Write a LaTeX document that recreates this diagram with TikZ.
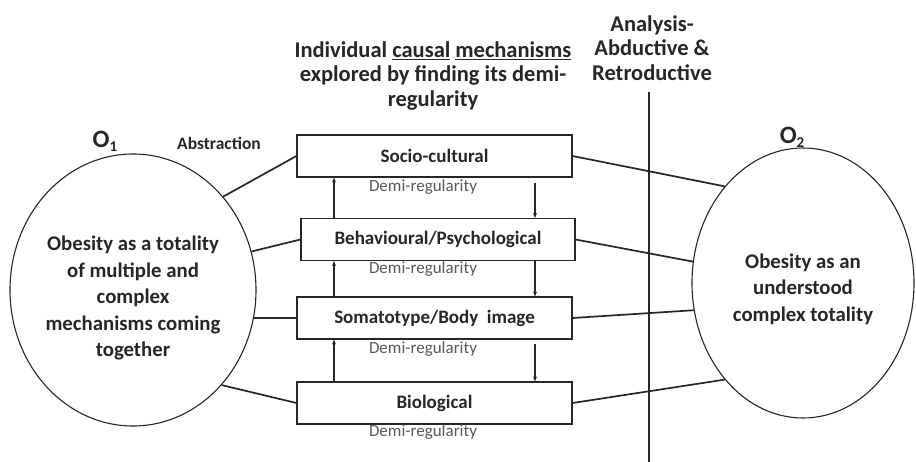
\documentclass[tikz,border=0pt]{standalone}
\usepackage{fontspec}
\setmainfont{Carlito}
\usetikzlibrary{shapes.geometric,arrows.meta}
\definecolor{ink}{HTML}{262626}
\definecolor{demi}{HTML}{595959}
\newcommand{\obslabel}[1]{O\raisebox{-0.35ex}{\fontsize{15}{15}\selectfont #1}}
\begin{document}
\begin{tikzpicture}[x=1pt,y=-1pt,
  whole/.style={ellipse,draw=ink,line width=1.1pt,inner sep=0pt},
  wholetext/.style={align=center,text=ink,font=\fontsize{20.8}{26.5}\selectfont\bfseries},
  mech/.style={rectangle,draw=ink,line width=1.1pt,minimum height=42pt,inner sep=0pt,
    text=ink,font=\fontsize{19}{22}\selectfont\bfseries},
  demilabel/.style={text=demi,font=\fontsize{17}{19}\selectfont},
  head/.style={text=ink,align=center,font=\fontsize{22.5}{24.5}\selectfont\bfseries},
  link/.style={draw=ink,line width=1.7pt},
  flow/.style={draw=ink,line width=1.2pt,-{Stealth[length=5pt,width=4pt]}}]
\useasboundingbox (0,0) rectangle (916,462);

% the two totalities
\node[whole,minimum width=246pt,minimum height=272pt] (O1) at (133,290) {};
\node[wholetext] (O1text) at (133,298)
  {Obesity as a totality\\of multiple and\\complex\\mechanisms coming\\together};
\node[whole,minimum width=222pt,minimum height=270pt] (O2) at (803,283) {};
\node[wholetext] (O2text) at (803,289)
  {Obesity as an\\understood\\complex totality};
\node[text=ink,font=\fontsize{25}{26}\selectfont\bfseries] (o1lbl) at (105,141) {\obslabel{1}};
\node[text=ink,font=\fontsize{25}{26}\selectfont\bfseries] (o2lbl) at (792,137) {\obslabel{2}};
\node[text=ink,font=\fontsize{17.5}{19}\selectfont\bfseries] (abs) at (219,143) {Abstraction};

% the mechanism layers
\node[mech,minimum width=275pt] (socio) at (434.5,156) {Socio-cultural};
\node[mech,minimum width=274pt] (behav) at (438,239.5) {Behavioural/Psychological};
\node[mech,minimum width=275pt] (soma) at (434.5,318) {Somatotype/Body\ \ image};
\node[mech,minimum width=275pt] (bio) at (434.5,403) {Biological};

\node[demilabel] (d1) at (423,187) {Demi-regularity};
\node[demilabel] (d2) at (423,269) {Demi-regularity};
\node[demilabel] (d3) at (423,349) {Demi-regularity};
\node[demilabel] (d4) at (423,432) {Demi-regularity};

% headings
\node[head] (title) at (433,76)
  {Individual \underline{causal} \underline{mechanisms}\\explored by finding its demi-\\regularity};
\node[head] (analysis) at (652,48) {Analysis-\\Abductive \&\\Retroductive};

% analysis divider
\coordinate (divtop) at (649,92);
\coordinate (divbot) at (649,462);
\draw[link] (divtop) -- (divbot);

% links to the totalities
\draw[link] (O1.46) -- (socio.west);
\draw[link] (O1.18) -- (behav.west);
\draw[link] (O1.-13) -- (soma.west);
\draw[link] (O1.-47) -- (bio.west);
\draw[link] (socio.east) -- (O2.129);
\draw[link] (behav.east) -- (O2.169);
\draw[link] (soma.east) -- (O2.194);
\draw[link] (bio.east) -- (O2.231);

% upward and downward flows between layers
\coordinate (upx) at (334,0);
\coordinate (downx) at (535,0);
\draw[flow] (behav.north -| upx) -- (socio.south -| upx);
\draw[flow] (soma.north -| upx) -- (behav.south -| upx);
\draw[flow] (bio.north -| upx) -- (soma.south -| upx);
\draw[flow,shorten <=5pt] (socio.south -| downx) -- (behav.north -| downx);
\draw[flow] (behav.south -| downx) -- (soma.north -| downx);
\draw[flow,shorten <=4pt] (soma.south -| downx) -- (bio.north -| downx);
\end{tikzpicture}
\end{document}
